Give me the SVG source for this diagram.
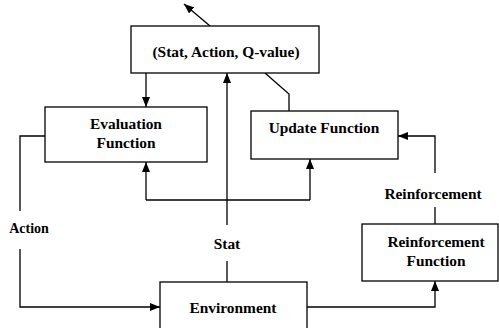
<svg xmlns="http://www.w3.org/2000/svg" width="499" height="328" viewBox="0 0 499 328">
<defs>
<marker id="ah" markerUnits="userSpaceOnUse" markerWidth="10" markerHeight="8" refX="10" refY="4" orient="auto">
<path d="M0,0 L10,4 L0,8 z" fill="#000"/>
</marker>
<style>
.box{fill:#fff;stroke:#000;stroke-width:1.3}
.ln{fill:none;stroke:#000;stroke-width:1.3}
.ar{fill:none;stroke:#000;stroke-width:1.3;marker-end:url(#ah)}
text{font-family:"Liberation Serif","Times New Roman",serif;font-weight:bold;font-size:15.4px;text-anchor:middle;fill:#000}
</style>
</defs>
<rect width="499" height="328" fill="#fff"/>
<g id="connectors">
<path class="ar" d="M210,26 L184,4"/>
<path class="ar" d="M146,73 L146,107"/>
<path class="ln" d="M227,282 L227,261"/>
<path class="ar" d="M227,225 L227,73"/>
<path class="ln" d="M146,200 L310,200"/>
<path class="ar" d="M146,200 L146,162"/>
<path class="ar" d="M310,200 L310,159"/>
<path class="ln" d="M265,73 L289,94 L289,111"/>
<path class="ln" d="M45,136 L20,136 L20,211"/>
<path class="ar" d="M20,249 L20,307 L160,307"/>
<path class="ar" d="M307,307 L435,307 L435,281"/>
<path class="ln" d="M435,224 L435,207"/>
<path class="ar" d="M435,173 L435,136 L398,136"/>
<text x="29" y="233" style="font-size:14px">Action</text>
<text x="227" y="249">Stat</text>
<text x="433" y="199">Reinforcement</text>
</g>
<g id="qtable">
<rect class="box" x="131" y="26" width="188" height="47"/>
<text x="226" y="57">(Stat, Action, Q-value)</text>
</g>
<g id="evaluation">
<rect class="box" x="45" y="107" width="162" height="55"/>
<text x="126" y="129">Evaluation</text>
<text x="126" y="148">Function</text>
</g>
<g id="update">
<rect class="box" x="251" y="111" width="147" height="48"/>
<text x="324" y="133">Update Function</text>
</g>
<g id="environment">
<rect class="box" x="160" y="282" width="147" height="50"/>
<text x="233" y="313">Environment</text>
</g>
<g id="reinforcement">
<rect class="box" x="362" y="224" width="136" height="57"/>
<text x="436" y="247">Reinforcement</text>
<text x="436" y="266">Function</text>
</g>
</svg>
